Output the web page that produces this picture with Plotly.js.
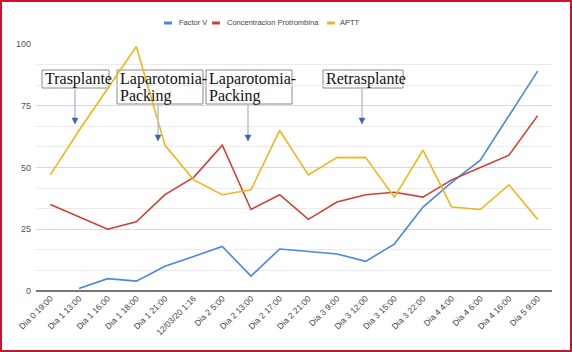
<!DOCTYPE html>
<html>
<head>
<meta charset="utf-8">
<script src="https://cdn.plot.ly/plotly-3.0.1.min.js"></script>
<style>
  html, body { margin: 0; padding: 0; background: #fff; }
  #wrap { position: relative; width: 572px; height: 352px; }
  #chart { width: 572px; height: 352px; }
  #frame { position: absolute; left: 0; top: 0; width: 572px; height: 352px; box-sizing: border-box; border: 2px solid #c4162e; pointer-events: none; }
</style>
</head>
<body>
<div id="wrap"><div id="chart"></div><div id="frame"></div></div>
<script>
const categories = ["Dia 0 19:00", "Dia 1 13:00", "Dia 1 16:00", "Dia 1 18:00", "Dia 1 21:00", "12/03/20 1:16",
  "Dia 2 5:00", "Dia 2 13:00", "Dia 2 17:00", "Dia 2 21:00", "Dia 3 9:00", "Dia 3 12:00", "Dia 3 15:00",
  "Dia 3 22:00", "Dia 4 4:00", "Dia 4 6:00", "Dia 4 16:00", "Dia 5 9:00"];
const factorV = [null, 1, 5, 4, 10, 14, 18, 6, 17, 16, 15, 12, 19, 34, 44, 53, 71, 89];
const protrombina = [35, 30, 25, 28, 39, 46, 59, 33, 39, 29, 36, 39, 40, 38, 45, 50, 55, 71];
const aptt = [47, 65, 82, 99, 59, 45, 39, 41, 65, 47, 54, 54, 38, 57, 34, 33, 43, 29];
const seriesNames = ["Factor V", "Concentracion Protrombina", "APTT"];
const seriesColors = ["#4a86e8", "#d23f31", "#f1b51c"];
const yTicks = [0, 25, 50, 75, 100];
const eventLabels = ["Trasplante", "Laparotomia-<br>Packing", "Laparotomia-<br>Packing", "Retrasplante"];

// plot area in pixels
const L = 36, R = 552, T = 44, B = 291;
const px = v => (v - L) / (R - L);
const py = v => (B - v) / (B - T);

const traces = [factorV, protrombina, aptt].map((vals, i) => ({
  type: 'scatter', mode: 'lines', x: categories, y: vals, name: seriesNames[i],
  line: { color: seriesColors[i], width: 1.6 }, connectgaps: false, showlegend: false,
  hoverinfo: 'x+y'
}));

const shapes = [];
const annotations = [];

// manual legend
const legendItems = [[168, 177], [216, 225], [331, 338]];
legendItems.forEach((p, i) => {
  shapes.push({ type: 'line', xref: 'paper', yref: 'paper', x0: px(p[0] - 4), x1: px(p[0] + 4), y0: py(23), y1: py(23),
    line: { color: seriesColors[i], width: 3 } });
  annotations.push({ xref: 'paper', yref: 'paper', x: px(p[1]), y: py(23), xanchor: 'left', yanchor: 'middle',
    text: seriesNames[i], showarrow: false, font: { family: 'Liberation Sans, Arial, sans-serif', size: 7.5, color: '#444' } });
});

// event boxes: [left, right, top, bottom, arrowX, arrowTipY]
const boxes = [
  [42, 109, 70, 88, 75, 124],
  [117, 203, 70, 104, 158, 141],
  [206, 292, 70, 104, 248, 141],
  [323, 403, 70, 88, 362, 124]
];
boxes.forEach((b, i) => {
  shapes.push({ type: 'rect', xref: 'paper', yref: 'paper', x0: px(b[0]), x1: px(b[1]), y0: py(b[3]), y1: py(b[2]),
    line: { color: '#8a8a8a', width: 1 }, fillcolor: 'rgba(255,255,255,1)', layer: 'between' });
  const lines = eventLabels[i].split('<br>');
  lines.forEach((t, k) => {
    annotations.push({ xref: 'paper', yref: 'paper', x: px(b[0] + 1), y: py(b[2] + 9 + 17 * k), xanchor: 'left', yanchor: 'middle',
      text: t, showarrow: false, font: { family: 'Liberation Serif, Times New Roman, serif', size: 16, color: '#111' } });
  });
  // arrow stem
  shapes.push({ type: 'line', xref: 'paper', yref: 'paper', x0: px(b[4]), x1: px(b[4]), y0: py(b[3]), y1: py(b[5] - 5),
    line: { color: '#b3c2dd', width: 1.5 } });
  // arrow head
  const hx = b[4], hy = b[5];
  shapes.push({ type: 'path', xref: 'paper', yref: 'paper',
    path: `M ${px(hx - 3)} ${py(hy - 6)} L ${px(hx + 3)} ${py(hy - 6)} L ${px(hx)} ${py(hy)} Z`,
    fillcolor: '#4266a8', line: { color: '#4266a8', width: 0.5 } });
});

const layout = {
  width: 572, height: 352,
  margin: { l: L, r: 572 - R, t: T, b: 352 - B, pad: 0 },
  paper_bgcolor: '#fff', plot_bgcolor: '#fff',
  showlegend: false,
  xaxis: {
    type: 'category', categoryorder: 'array', categoryarray: categories,
    range: [-0.5, categories.length - 0.5],
    tickangle: -45, showgrid: false, zeroline: false, showline: false, ticks: '',
    tickfont: { family: 'Liberation Sans, Arial, sans-serif', size: 8.5, color: '#444' }
  },
  yaxis: {
    range: [0, 100], tickvals: yTicks, ticktext: yTicks.map(String),
    showgrid: true, gridcolor: '#d9d9d9', gridwidth: 1,
    minor: { dtick: 25 / 3, tick0: 0, showgrid: true, gridcolor: '#ececec', gridwidth: 1 },
    zeroline: true, zerolinecolor: '#777', zerolinewidth: 1.5,
    tickfont: { family: 'Liberation Sans, Arial, sans-serif', size: 9, color: '#555' },
    ticks: '', ticklabelstandoff: 4
  },
  shapes: shapes,
  annotations: annotations
};

Plotly.newPlot('chart', traces, layout, { displayModeBar: false, staticPlot: true });
</script>
</body>
</html>
